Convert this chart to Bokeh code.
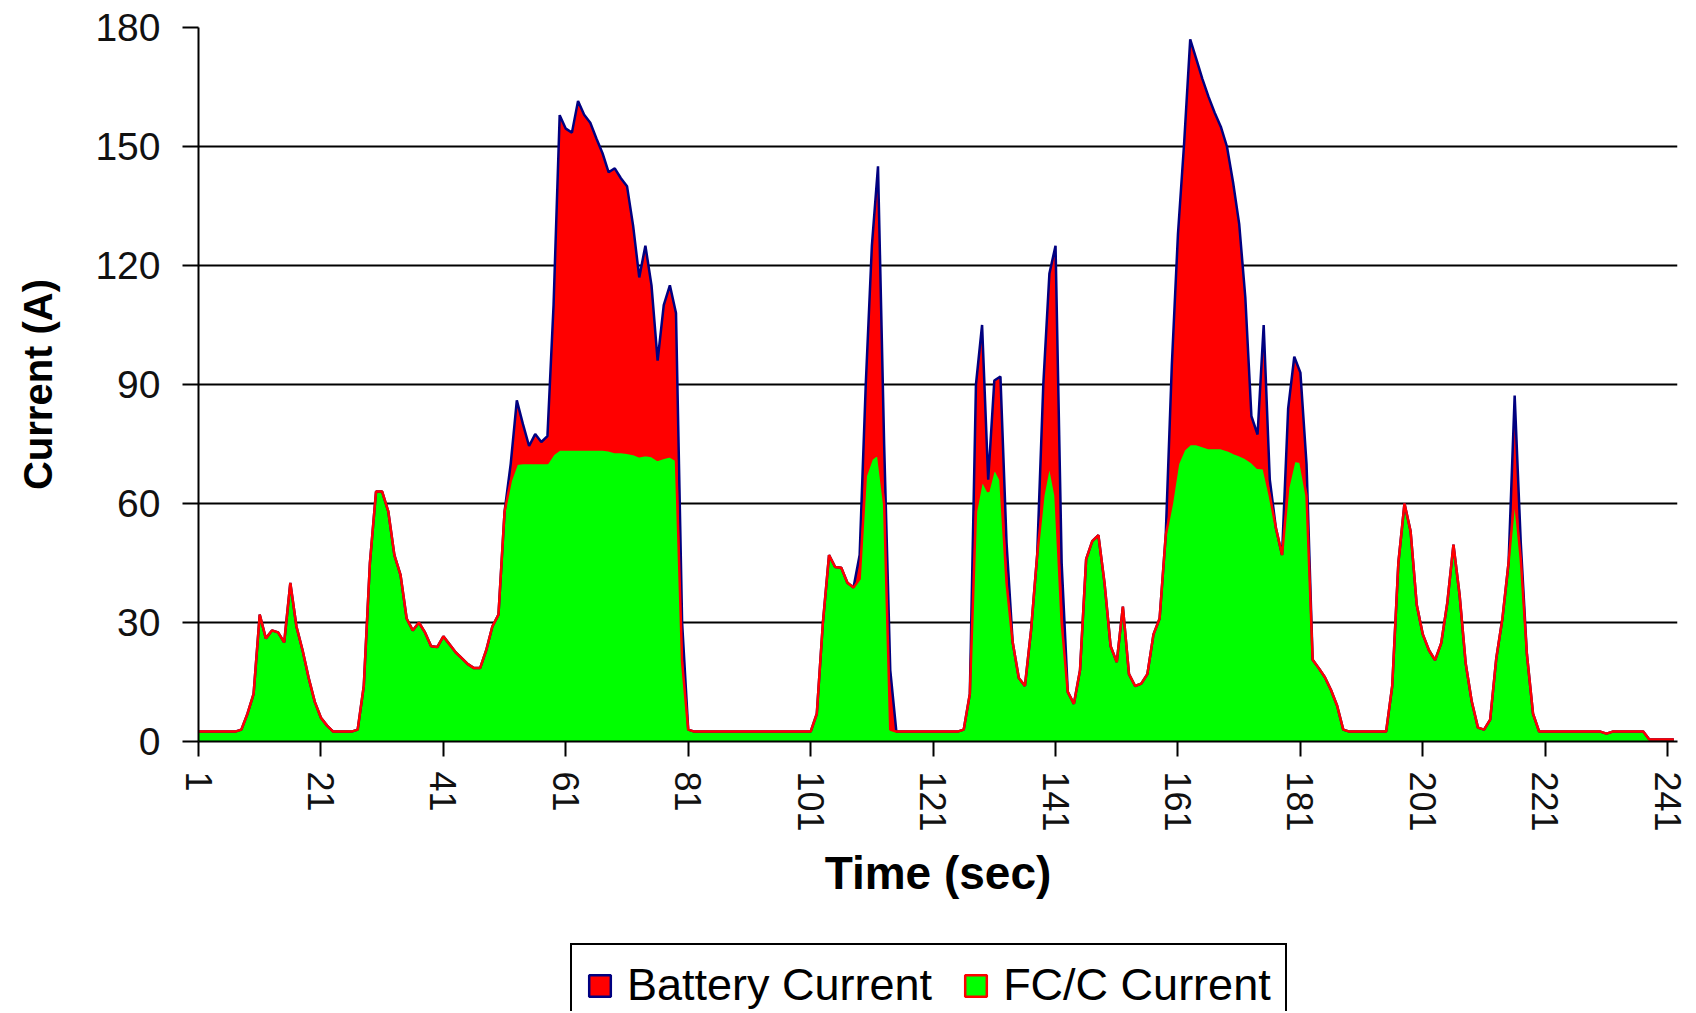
import numpy as np
from bokeh.plotting import figure
from bokeh.layouts import column
from bokeh.models import (ColumnDataSource, Range1d, FixedTicker, Legend, LegendItem)
from bokeh.transform import stack
from bokeh.embed import file_html
from bokeh.resources import INLINE

# ---------------- data ----------------
time_sec = list(range(1, 243))

fcc_current = [
    2.5, 2.5, 2.5, 2.5, 2.5, 2.5, 2.5, 3, 7, 12,
    32, 26, 28, 27.5, 25, 40, 29, 23, 16, 10,
    6, 4, 2.5, 2.5, 2.5, 2.5, 3, 14, 45, 63,
    63, 58, 47, 42, 31, 28, 30, 27.5, 24, 23.8,
    26.5, 24.5, 22.5, 21, 19.5, 18.5, 18.5, 23, 29, 32,
    58, 65.7, 70, 70.2, 70.2, 70.2, 70.2, 70.2, 72.5, 73.6,
    73.6, 73.6, 73.6, 73.6, 73.6, 73.6, 73.6, 73.4, 73, 73,
    72.8, 72.5, 71.9, 72.2, 72, 71, 71.5, 71.9, 71, 20,
    3, 2.5, 2.5, 2.5, 2.5, 2.5, 2.5, 2.5, 2.5, 2.5,
    2.5, 2.5, 2.5, 2.5, 2.5, 2.5, 2.5, 2.5, 2.5, 2.5,
    2.5, 7, 30, 47, 44, 43.8, 40, 38.8, 41, 67,
    71.3, 72.5, 60, 3, 2.5, 2.5, 2.5, 2.5, 2.5, 2.5,
    2.5, 2.5, 2.5, 2.5, 2.5, 3, 12, 58, 66, 63,
    69, 66, 40, 25, 16, 14, 28, 47, 62, 70,
    62, 30, 12.5, 9.5, 18, 46, 50.5, 52, 40, 24,
    20, 34, 17, 14, 14.6, 17, 27, 31, 52, 60,
    70, 73.6, 75, 75, 74.5, 74, 74, 74, 73.5, 72.8,
    72.2, 71.5, 70.5, 69, 68.9, 62, 53.8, 47, 64, 70.8,
    70.5, 62, 20.6, 18.5, 16.2, 13, 9, 3, 2.5, 2.5,
    2.5, 2.5, 2.5, 2.5, 2.5, 14, 45, 60, 53, 34.5,
    27, 23, 20.5, 24.8, 35, 49.6, 37, 19.7, 10, 3.5,
    3, 5.5, 21, 31, 45, 62, 46, 22, 7, 2.5,
    2.5, 2.5, 2.5, 2.5, 2.5, 2.5, 2.5, 2.5, 2.5, 2.5,
    2, 2.5, 2.5, 2.5, 2.5, 2.5, 2.5, 0.5, 0.5, 0.5,
    0.5, 0.5,
]

battery_current = [
    0, 0, 0, 0, 0, 0, 0, 0, 0, 0,
    0, 0, 0, 0, 0, 0, 0, 0, 0, 0,
    0, 0, 0, 0, 0, 0, 0, 0, 0, 0,
    0, 0, 0, 0, 0, 0, 0, 0, 0, 0,
    0, 0, 0, 0, 0, 0, 0, 0, 0, 0,
    0, 4.3, 16, 9.8, 4.3, 7.3, 5.3, 6.8, 37.5, 84.3,
    80.9, 79.9, 87.9, 84.4, 82.4, 78.4, 74.7, 70.1, 71.5, 69,
    67.2, 57.5, 45.1, 52.8, 43, 25, 38.5, 43.1, 37, 10,
    0, 0, 0, 0, 0, 0, 0, 0, 0, 0,
    0, 0, 0, 0, 0, 0, 0, 0, 0, 0,
    0, 0, 0, 0, 0, 0, 0, 0, 6, 23,
    53.7, 72.5, 15, 15, 0, 0, 0, 0, 0, 0,
    0, 0, 0, 0, 0, 0, 0, 32, 39, 3,
    22, 26, 10, 0, 0, 0, 0, 0, 28, 48,
    63, 15, 0, 0, 0, 0, 0, 0, 0, 0,
    0, 0, 0, 0, 0, 0, 0, 0, 0, 35,
    58, 77.1, 102, 97, 92.5, 88.5, 84.5, 81, 76.5, 68.2,
    58.3, 40.5, 11.5, 8.4, 36.1, 4, 0, 0, 20, 26.2,
    22.5, 8, 0, 0, 0, 0, 0, 0, 0, 0,
    0, 0, 0, 0, 0, 0, 0, 0, 0, 0,
    0, 0, 0, 0, 0, 0, 0, 0, 0, 0,
    0, 0, 0, 0, 0, 25.2, 4, 0, 0, 0,
    0, 0, 0, 0, 0, 0, 0, 0, 0, 0,
    0, 0, 0, 0, 0, 0, 0, 0, 0, 0,
    0, 0,
]

y_ticks = [0, 30, 60, 90, 120, 150, 180]
x_ticks = [1, 21, 41, 61, 81, 101, 121, 141, 161, 181, 201, 221, 241]
series_names = ["Battery Current", "FC/C Current"]

assert len(fcc_current) == len(time_sec) == len(battery_current)

src = ColumnDataSource(dict(t=time_sec, fc=fcc_current, bat=battery_current))

FONT = "Liberation Sans"
W = 1688

p = figure(width=W, height=911, output_backend="svg", toolbar_location=None,
           x_range=Range1d(1, 242.6), y_range=Range1d(0, 180),
           min_border_left=198, min_border_right=11, min_border_top=27,
           min_border_bottom=170)
p.outline_line_color = None
p.background_fill_color = "white"
p.border_fill_color = "white"

# stacked areas
p.varea_stack(["fc", "bat"], x="t", source=src, color=["#00FF00", "#FF0000"])
p.line(x="t", y=stack("fc", "bat"), source=src, line_color="#000080", line_width=2.5)
p.line(x="t", y="fc", source=src, line_color="#FF0000", line_width=2.5)

# grid
p.xgrid.visible = False
p.ygrid.ticker = FixedTicker(ticks=y_ticks)
p.ygrid.grid_line_color = "black"
p.ygrid.grid_line_width = 2

# axes
p.yaxis.ticker = FixedTicker(ticks=y_ticks)
p.xaxis.ticker = FixedTicker(ticks=x_ticks)
for ax in (p.xaxis[0], p.yaxis[0]):
    ax.axis_line_color = "black"
    ax.axis_line_width = 2
    ax.major_tick_line_color = "black"
    ax.major_tick_line_width = 2
    ax.minor_tick_line_color = None
    ax.major_tick_in = 0
    ax.major_label_text_font = FONT
    ax.major_label_text_color = "#111111"
    ax.axis_label_text_font = FONT
    ax.axis_label_text_font_style = "bold"
    ax.axis_label_text_color = "black"

p.yaxis.major_tick_out = 16
p.yaxis.major_label_standoff = 22
p.yaxis.major_label_text_font_size = "39px"
p.yaxis.axis_label = "Current (A)"
p.yaxis.axis_label_text_font_size = "40px"
p.yaxis.axis_label_standoff = 32

p.xaxis.major_tick_out = 15
p.xaxis.major_label_standoff = 15
p.xaxis.major_label_orientation = "vertical"
p.xaxis.major_label_text_font_size = "36px"
p.xaxis.axis_label = "Time (sec)"
p.xaxis.axis_label_text_font_size = "46px"
p.xaxis.axis_label_standoff = 12

# ---------------- legend (separate strip below the chart) ----------------
lfig = figure(width=W, height=100, output_backend="svg", toolbar_location=None,
              x_range=Range1d(0, 1), y_range=Range1d(0, 1), min_border=0)
lfig.axis.visible = False
lfig.grid.visible = False
lfig.outline_line_color = None
lfig.background_fill_color = "white"
lfig.border_fill_color = "white"

# swatch carriers: one item each, placed outside the visible range
r_bat = lfig.quad(left=[10], right=[11], top=[11], bottom=[10], fill_color="#FF0000",
                  line_color="#000080", line_width=2.5)
r_fc = lfig.quad(left=[10], right=[11], top=[11], bottom=[10], fill_color="#00FF00",
                 line_color="#FF0000", line_width=2.5)
legend = Legend(items=[LegendItem(label=series_names[0], renderers=[r_bat]),
                       LegendItem(label=series_names[1], renderers=[r_fc])],
                orientation="horizontal", location=(372, -16))
legend.label_text_font = FONT
legend.label_text_font_size = "45px"
legend.label_text_color = "black"
legend.glyph_width = 27
legend.glyph_height = 27
legend.label_standoff = 14
legend.spacing = 30
legend.padding = 14
legend.margin = 0
legend.border_line_color = "black"
legend.border_line_width = 2
legend.border_line_alpha = 1
legend.background_fill_color = "white"
legend.background_fill_alpha = 1
lfig.add_layout(legend, "center")

layout = column(p, lfig, spacing=0)
open("out.html", "w").write(file_html(layout, INLINE))
